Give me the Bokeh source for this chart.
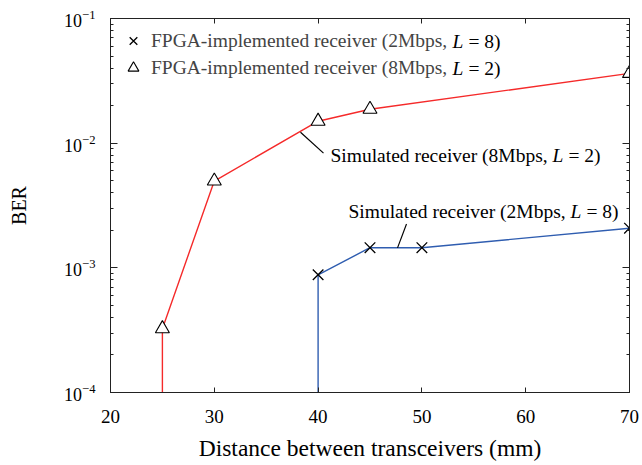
from bokeh.plotting import figure
from bokeh.models import (Range1d, FixedTicker, Label, Legend, LegendItem,
                          LinearAxis, LogAxis, CustomJSTickFormatter)
from bokeh.core.properties import value
from bokeh.embed import file_html
from bokeh.resources import INLINE

# ---------------- data ----------------
distance_2M = [40, 45, 50, 70]
ber_2M = [8.8e-4, 1.45e-3, 1.45e-3, 2.08e-3]
distance_8M = [25, 30, 40, 45, 70]
ber_8M = [3.25e-4, 4.97e-3, 0.0150, 0.0187, 0.0363]

# simulated curves (drop below the plotted BER range at their first distance)
sim_distance_2M = [40, 40, 45, 50, 70]
sim_ber_2M = [1e-4, 8.8e-4, 1.45e-3, 1.45e-3, 2.08e-3]
sim_distance_8M = [25, 25, 30, 40, 45, 70]
sim_ber_8M = [1e-4, 3.25e-4, 4.97e-3, 0.0150, 0.0187, 0.0363]

x_ticks = [20, 30, 40, 50, 60, 70]
y_tick_exponents = [-4, -3, -2, -1]

legend_labels = ["FPGA-implemented receiver (2Mbps,", "FPGA-implemented receiver (8Mbps,"]
legend_tails = ["= 8)", "= 2)"]
sim_label_heads = ["Simulated receiver (8Mbps,", "Simulated receiver (2Mbps,"]
sim_label_tails = ["= 2)", "= 8)"]
x_title = "Distance between transceivers (mm)"
y_title = "BER"

# ---------------- layout helpers (page pixels -> data) ----------------
W, H = 640, 463
FX0, FX1, FY0, FY1 = 110, 629, 18, 393
def px_x(px):
    return 20 + (px - FX0) * (70 - 20) / (FX1 - FX0)
def px_y(py):
    return 10 ** (-1 - 3 * (py - FY0) / (FY1 - FY0))

FONT = "Liberation Serif"
RED = "#f52a2a"
BLUE = "#2f5db0"
AXC = "#222222"

p = figure(width=W, height=H, y_axis_type="log",
           x_range=Range1d(20, 70), y_range=Range1d(1e-4, 1e-1),
           output_backend="svg", toolbar_location=None,
           min_border_left=FX0, min_border_right=W - FX1,
           min_border_top=FY0, min_border_bottom=H - FY1)
p.xgrid.visible = False
p.ygrid.visible = False
p.outline_line_color = AXC
p.outline_line_width = 1
p.background_fill_color = "white"
p.border_fill_color = "white"

major_y = [10.0 ** e for e in y_tick_exponents]
minor_y = [m * 10.0 ** e for e in y_tick_exponents[:-1] for m in range(2, 10)]

# bottom axis
xa = p.xaxis[0]
xa.ticker = FixedTicker(ticks=x_ticks, minor_ticks=[])
xa.axis_line_color = AXC
xa.major_tick_in = 5
xa.major_tick_out = 0
xa.minor_tick_in = 0
xa.minor_tick_out = 0
xa.major_tick_line_color = AXC
xa.major_label_text_font = FONT
xa.major_label_text_font_size = "19px"
xa.major_label_text_color = "black"
xa.major_label_standoff = 17
xa.axis_label = x_title
xa.axis_label_text_font = FONT
xa.axis_label_text_font_size = "23.5px"
xa.axis_label_text_font_style = "normal"
xa.axis_label_text_color = "black"
xa.axis_label_standoff = 9

# left axis
ya = p.yaxis[0]
ya.ticker = FixedTicker(ticks=major_y, minor_ticks=minor_y)
ya.axis_line_color = AXC
ya.major_tick_in = 7
ya.major_tick_out = 0
ya.minor_tick_in = 3
ya.minor_tick_out = 0
ya.major_tick_line_color = AXC
ya.minor_tick_line_color = AXC
ya.major_label_text_font = FONT
ya.major_label_text_font_size = "18px"
ya.major_label_text_color = "black"
ya.major_label_standoff = 15
ya.axis_label = y_title
ya.axis_label_text_font = FONT
ya.axis_label_text_font_size = "20px"
ya.axis_label_text_font_style = "normal"
ya.axis_label_text_color = "black"
ya.axis_label_standoff = 31

# mirrored axes on the top and right frame edges (ticks only)
blank = CustomJSTickFormatter(code="return ''")
top = LinearAxis(ticker=FixedTicker(ticks=x_ticks, minor_ticks=[]), formatter=blank,
                 axis_line_color=AXC, major_tick_in=5, major_tick_out=0,
                 minor_tick_in=0, minor_tick_out=0, major_tick_line_color=AXC,
                 major_label_standoff=0, major_label_text_font_size="2px")
p.add_layout(top, "above")
right = LogAxis(ticker=FixedTicker(ticks=major_y, minor_ticks=minor_y), formatter=blank,
                axis_line_color=AXC, major_tick_in=7, major_tick_out=0,
                minor_tick_in=3, minor_tick_out=0, major_tick_line_color=AXC,
                minor_tick_line_color=AXC,
                major_label_standoff=0, major_label_text_font_size="2px")
p.add_layout(right, "right")

# ---------------- curves ----------------
p.line(sim_distance_8M, sim_ber_8M, line_color=RED, line_width=1.4)
p.line(sim_distance_2M, sim_ber_2M, line_color=BLUE, line_width=1.4)
r_x = p.scatter(distance_2M, ber_2M, marker="x", size=15,
                line_color="black", line_width=1.3)
r_t = p.scatter(distance_8M, ber_8M, marker="triangle", size=14,
                line_color="black", fill_color="white", line_width=1.1)

# leader lines for the simulated-curve annotations
p.segment(x0=[px_x(300), px_x(406)], y0=[px_y(132), px_y(224)],
          x1=[px_x(323), px_x(397)], y1=[px_y(153), px_y(248)],
          line_color="black", line_width=1.2)

# ---------------- legend ----------------
legend = Legend(items=[LegendItem(label=value(legend_labels[0]), renderers=[r_x]),
                       LegendItem(label=value(legend_labels[1]), renderers=[r_t])],
                location=(8, 311), margin=0, padding=0, spacing=0,
                glyph_width=30, glyph_height=27, label_height=27,
                label_standoff=3, border_line_color=None,
                background_fill_alpha=0,
                label_text_font=FONT, label_text_font_size="19.5px",
                label_text_baseline="middle")
p.add_layout(legend)

def txt(px, py, text, size="19.5px", italic=False, align="left"):
    p.add_layout(Label(x=px_x(px), y=px_y(py), text=text,
                       text_font=FONT, text_font_size=size,
                       text_font_style="italic" if italic else "normal",
                       text_align=align, text_baseline="middle",
                       text_color="black"))

# italic L and tails in the legend
for row_y, tail in zip([41, 68], legend_tails):
    txt(452, row_y, "L", italic=True)
    txt(468, row_y, tail)

# simulated curve labels
for (x0, yy), head, tail in zip([(330, 155), (348, 212)], sim_label_heads, sim_label_tails):
    txt(x0, yy, head)
    txt(x0 + 222, yy, "L", italic=True)
    txt(x0 + 238, yy, tail)

open("out.html", "w").write(file_html(p, INLINE))
